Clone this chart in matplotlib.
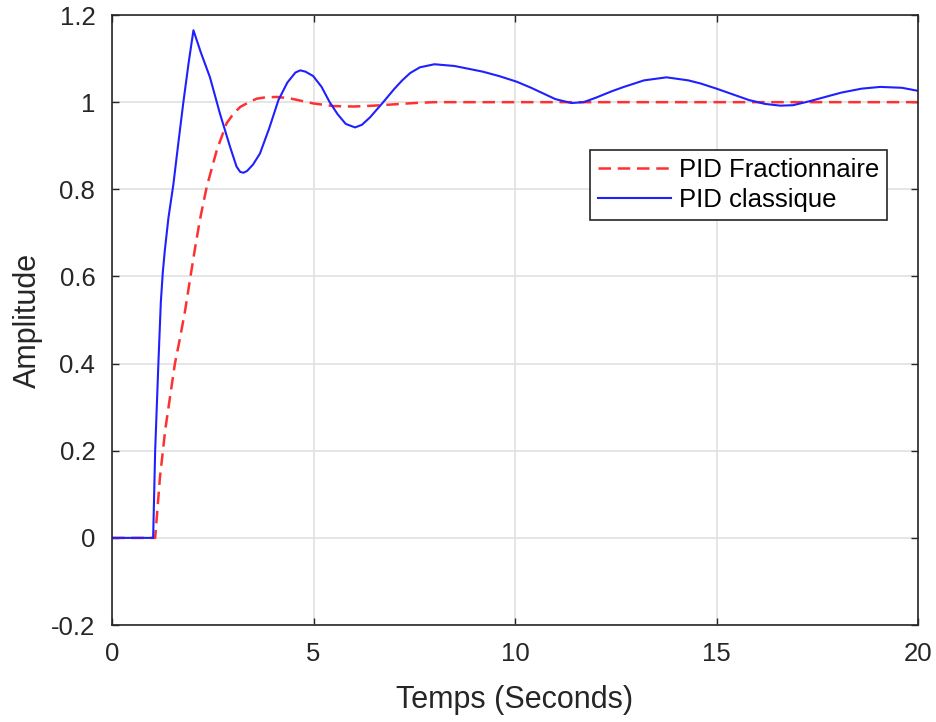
import numpy as np
import matplotlib.pyplot as plt

# Step responses
t_frac = [0, 1.0, 1.07, 1.19, 1.32, 1.44, 1.56, 1.69, 1.81, 1.94, 2.06, 2.18, 2.35,
          2.6, 2.84, 3.0, 3.18, 3.4, 3.59, 3.8, 4.09, 4.4, 4.7, 5.0, 5.5, 6.0, 6.5,
          7.0, 7.5, 8.0, 10.0, 12.0, 14.0, 16.0, 18.0, 20.0]
y_frac = [0, 0, 0.0, 0.14, 0.248, 0.324, 0.40, 0.46, 0.52, 0.596, 0.665, 0.73, 0.806,
          0.89, 0.951, 0.972, 0.989, 1.0, 1.008, 1.011, 1.012, 1.009, 1.003, 0.997,
          0.991, 0.99, 0.992, 0.995, 0.998, 1.0, 1.0, 1.0, 1.0, 1.0, 1.0, 1.0]

t_clas = [0, 1.02, 1.07, 1.15, 1.21, 1.26, 1.31, 1.4, 1.52, 1.65, 1.77, 1.9, 2.02, 2.2,
          2.43, 2.68, 2.93, 3.09, 3.18, 3.26, 3.35, 3.5, 3.67, 3.9, 4.13, 4.35, 4.55,
          4.67, 4.8, 4.99, 5.2, 5.4, 5.6, 5.8, 6.03, 6.2, 6.4, 6.73, 7.0, 7.2, 7.4,
          7.64, 8.0, 8.5, 9.2, 9.6, 10.04, 10.4, 10.7, 11.0, 11.4, 11.7, 12.0, 12.4,
          12.7, 13.2, 13.76, 14.3, 14.6, 15.0, 15.4, 15.8, 16.2, 16.58, 16.9, 17.3,
          17.7, 18.1, 18.6, 19.06, 19.6, 20.0]
y_clas = [0, 0, 0.2, 0.4, 0.54, 0.61, 0.66, 0.735, 0.81, 0.91, 1.0, 1.09, 1.165, 1.115,
          1.057, 0.973, 0.897, 0.852, 0.84, 0.838, 0.842, 0.857, 0.882, 0.94, 1.005,
          1.045, 1.068, 1.073, 1.07, 1.06, 1.035, 1.0, 0.972, 0.95, 0.942, 0.948,
          0.965, 1.0, 1.03, 1.05, 1.067, 1.08, 1.087, 1.083, 1.07, 1.06, 1.047, 1.033,
          1.02, 1.007, 0.998, 1.0, 1.01, 1.025, 1.035, 1.05, 1.057, 1.05, 1.043, 1.031,
          1.018, 1.005, 0.996, 0.992, 0.993, 1.002, 1.012, 1.022, 1.031, 1.035,
          1.033, 1.026]

plt.rcParams['font.family'] = ['Liberation Sans', 'DejaVu Sans']

fig = plt.figure(figsize=(9.36, 7.22), dpi=100)
ax = fig.add_axes([0.1197, 0.1343, 0.8611, 0.8449])

ax.plot(t_frac, y_frac, color='#ff3030', linestyle='--', linewidth=1.8,
        dashes=(5, 2.7), label='PID Fractionnaire')
ax.plot(t_clas, y_clas, color='#2020ff', linewidth=1.5, label='PID classique')

ax.set_xlim(0, 20)
ax.set_ylim(-0.2, 1.2)
ax.set_xticks([0, 5, 10, 15, 20])
ax.set_yticks([-0.2, 0, 0.2, 0.4, 0.6, 0.8, 1.0, 1.2])
ax.set_xticklabels(['0', '5', '10', '15', '20'])
ax.set_yticklabels(['-0.2', '0', '0.2', '0.4', '0.6', '0.8', '1', '1.2'])
ax.grid(True, color='#e0e0e0', linewidth=1.2)
ax.set_axisbelow(True)
ax.tick_params(direction='in', length=5, width=1, colors='#262626',
               labelsize=18.5, top=True, right=True)
ax.tick_params(axis='x', pad=12)
ax.tick_params(axis='y', pad=12)
for s in ax.spines.values():
    s.set_color('#262626')
    s.set_linewidth(1.2)

ax.set_xlabel('Temps (Seconds)', fontsize=22, color='#262626', labelpad=14)
ax.set_ylabel('Amplitude', fontsize=22, color='#262626', labelpad=6)

leg = ax.legend(loc='upper left', bbox_to_anchor=(0.593, 0.779), fontsize=18.5,
                handlelength=2.85, handletextpad=0.3, borderpad=0.3,
                labelspacing=0.25, fancybox=False, framealpha=1,
                borderaxespad=0)
leg.get_frame().set_edgecolor('#262626')
leg.get_frame().set_linewidth(1.2)

fig.savefig('out.png', dpi=100)
